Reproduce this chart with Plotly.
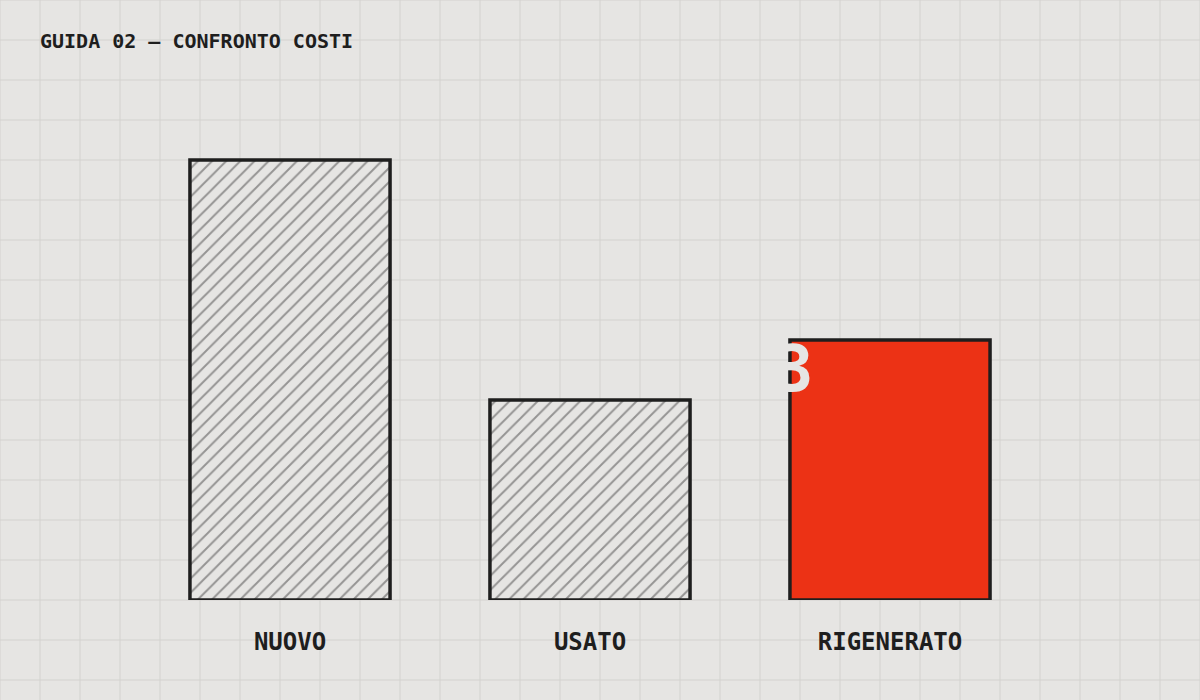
import plotly.graph_objects as go

# dati (costo relativo, unità arbitrarie)
categorie = ["NUOVO", "USATO", "RIGENERATO"]
costi = [1100, 500, 650]
titolo = "GUIDA 02 — CONFRONTO COSTI"

BG = "#e6e5e3"
INK = "#1e1e1e"
RED = "#ec3215"
GRID = "#d3d2cf"
W, H = 1200, 700
ML, MR, MT, MB = 140, 160, 120, 100
PW, PH = W - ML - MR, H - MT - MB

fig = go.Figure(
    data=go.Bar(
        x=categorie, y=costi, width=0.667,
        marker=dict(
            color=[BG, BG, RED],
            pattern=dict(
                shape=["/", "/", ""], fgcolor="#9b9a98", bgcolor=[BG, BG, RED],
                size=10, solidity=0.2, fillmode="overlay"),
            line=dict(color=INK, width=3.5),
        ),
        hoverinfo="skip",
    )
)

# griglia di fondo a 40px su tutta la pagina
shapes = []
for px in range(0, W + 1, 40):
    xp = (px - ML) / PW
    shapes.append(dict(type="line", xref="paper", yref="paper", x0=xp, x1=xp,
                       y0=-MB / PH, y1=1 + MT / PH,
                       line=dict(color=GRID, width=1), layer="below"))
for py in range(0, H + 1, 40):
    yp = (H - MB - py) / PH
    shapes.append(dict(type="line", xref="paper", yref="paper", x0=-ML / PW, x1=1 + MR / PW,
                       y0=yp, y1=yp,
                       line=dict(color=GRID, width=1), layer="below"))

fig.update_layout(
    width=W, height=H,
    margin=dict(l=ML, r=MR, t=MT, b=MB),
    paper_bgcolor=BG, plot_bgcolor="rgba(0,0,0,0)",
    shapes=shapes,
    showlegend=False,
    title=dict(text=titolo, x=40 / W, xref="container", xanchor="left",
               y=1 - 41 / H, yref="container", yanchor="middle",
               font=dict(family="DejaVu Sans Mono", size=20, color=INK, weight="bold")),
    xaxis=dict(showgrid=False, zeroline=False, showline=False, ticks="",
               ticklabelstandoff=25,
               tickfont=dict(family="DejaVu Sans Mono", size=24, color=INK, weight="bold")),
    yaxis=dict(range=[0, 1200], showgrid=False, zeroline=False, showline=False,
               showticklabels=False),
)

# grande cifra nel colore dello sfondo, visibile solo sopra l'angolo della barra
fig.add_annotation(x=categorie[2], y=costi[2], xref="x", yref="y",
                   text="3", showarrow=False, xanchor="right", yanchor="top",
                   xshift=-74, yshift=10,
                   font=dict(family="DejaVu Sans Mono", size=64, color=BG, weight="bold"))

fig.write_html("out.html", config={"displayModeBar": False},
               post_script="document.body.style.margin='0';")
